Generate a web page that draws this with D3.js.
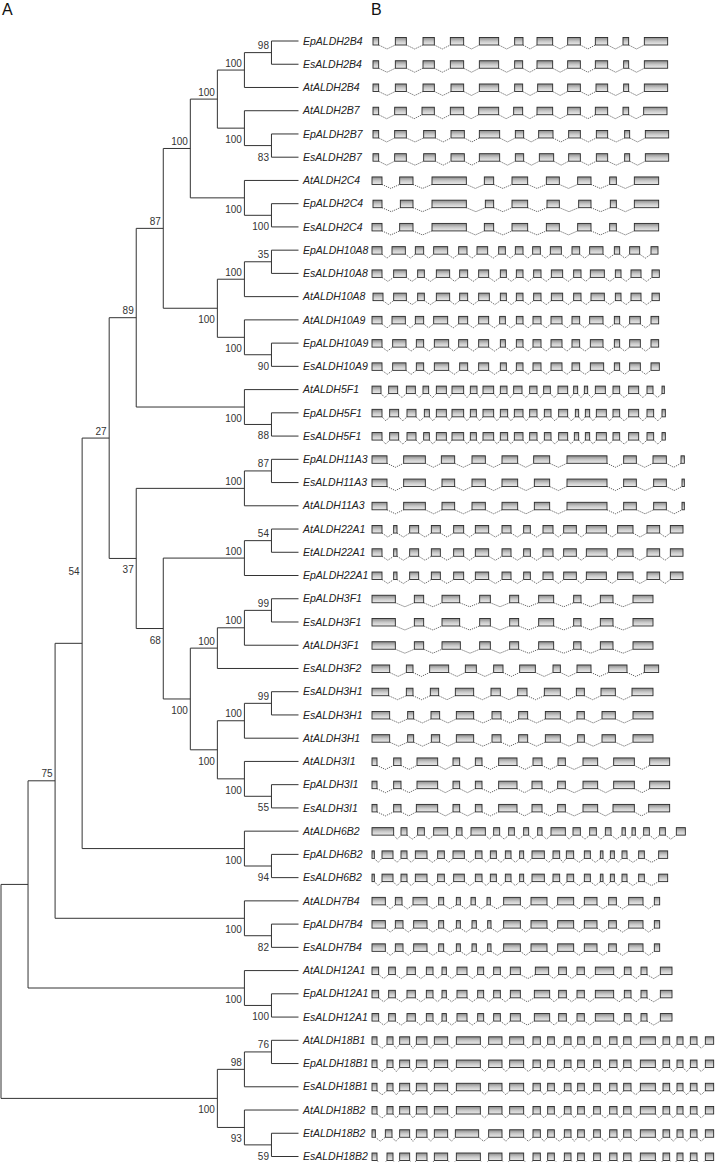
<!DOCTYPE html>
<html><head><meta charset="utf-8">
<script src="https://cdn.jsdelivr.net/npm/d3@7"></script>
<style>
html,body{margin:0;padding:0;background:#fff;}
svg{display:block;font-family:"Liberation Sans",Arial,Helvetica,sans-serif;}
</style>
</head><body>
<svg id="chart" width="717" height="1162"></svg>
<script>
// ---------------- DATA ----------------
// Tree topology with bootstrap support values (Newick, top-to-bottom leaf order)
const treeNewick = "(((((((((((EpALDH2B4,EsALDH2B4)98,AtALDH2B4)100,(AtALDH2B7,(EpALDH2B7,EsALDH2B7)83)100)100,(AtALDH2C4,(EpALDH2C4,EsALDH2C4)100)100)100,(((EpALDH10A8,EsALDH10A8)35,AtALDH10A8)100,(AtALDH10A9,(EpALDH10A9,EsALDH10A9)90)100)100)87,(AtALDH5F1,(EpALDH5F1,EsALDH5F1)88)100)89,(((EpALDH11A3,EsALDH11A3)87,AtALDH11A3)100,(((AtALDH22A1,EtALDH22A1)54,EpALDH22A1)100,((((EpALDH3F1,EsALDH3F1)99,AtALDH3F1)100,EsALDH3F2)100,(((EsALDH3H1,EsALDH3H1)99,AtALDH3H1)100,(AtALDH3I1,(EpALDH3I1,EsALDH3I1)55)100)100)100)68)37)27,(AtALDH6B2,(EpALDH6B2,EsALDH6B2)94)100)54,(AtALDH7B4,(EpALDH7B4,EsALDH7B4)82)100)75,(AtALDH12A1,(EpALDH12A1,EsALDH12A1)100)100),(((AtALDH18B1,EpALDH18B1)76,EsALDH18B1)98,(AtALDH18B2,(EtALDH18B2,EsALDH18B2)59)93)100);";

// Exon start/end pairs (relative gene length units), one list per leaf, in leaf order
const exonStructures = [
  [38,55,105,138,188,222,270,310,357,415,463,488,530,577,622,660,705,742,788,805,852,922],            // EpALDH2B4
  [38,55,105,138,188,222,270,310,357,415,463,487,530,577,622,660,705,742,790,805,852,922],            // EsALDH2B4
  [38,55,105,138,188,222,272,310,357,415,463,487,532,577,622,660,707,742,790,805,852,922],            // AtALDH2B4
  [38,55,103,138,185,222,270,310,355,415,460,487,530,577,622,660,705,742,788,805,850,920],            // AtALDH2B7
  [38,55,103,138,190,225,272,312,357,418,465,490,535,578,625,660,708,742,793,808,855,925],            // EpALDH2B7
  [38,55,103,138,190,225,272,312,357,418,465,490,537,580,625,660,708,742,793,808,855,925],            // EsALDH2B7
  [35,65,118,158,215,318,372,400,455,502,558,597,652,692,748,768,822,895],                            // AtALDH2C4
  [38,65,120,158,215,318,375,400,455,502,560,597,655,692,750,768,822,895],                            // EpALDH2C4
  [35,65,118,158,215,318,372,400,455,502,558,597,652,692,748,768,822,895],                            // EsALDH2C4
  [35,65,95,135,165,190,220,262,295,320,350,382,415,435,465,488,517,540,570,603,635,658,688,728,762,778,808,838,872,893], // EpALDH10A8
  [35,65,100,138,172,192,228,268,298,322,355,385,420,438,468,488,520,542,573,607,640,662,690,732,765,782,812,842,875,897], // EsALDH10A8
  [38,68,100,138,172,192,228,268,298,322,355,387,420,438,468,488,520,542,573,607,640,662,692,732,765,782,812,842,875,897], // AtALDH10A8
  [35,65,95,135,165,190,220,262,295,322,355,385,418,435,468,488,518,542,572,605,635,658,688,728,762,778,808,840,872,895], // AtALDH10A9
  [35,65,97,137,168,190,222,265,295,322,355,385,420,435,468,488,518,542,572,605,635,658,690,728,762,778,808,840,872,895], // EpALDH10A9
  [35,65,97,137,168,190,222,265,298,322,355,385,420,438,468,488,518,542,572,605,635,658,690,730,762,778,808,840,872,897], // EsALDH10A9
  [35,62,85,112,138,165,188,205,228,258,275,310,330,350,368,400,420,440,460,485,508,530,550,570,593,622,640,652,672,682,705,735,758,778,805,835,860,878,905,912], // AtALDH5F1
  [35,65,88,115,140,167,192,207,228,258,275,310,330,348,368,400,420,442,462,488,508,530,552,572,595,622,645,655,675,688,708,738,758,778,805,835,860,880,905,915], // EpALDH5F1
  [35,65,88,115,140,167,190,207,228,258,275,310,330,348,368,400,420,442,462,488,508,530,552,572,595,622,642,655,675,688,708,738,758,778,805,835,860,880,905,915], // EsALDH5F1
  [35,80,130,195,243,283,335,375,425,472,520,568,620,740,790,828,878,918,962,972],                    // EpALDH11A3
  [35,80,130,195,245,283,335,375,425,472,522,568,620,740,790,828,880,918,965,972],                    // EsALDH11A3
  [35,80,130,195,245,283,335,375,425,472,522,568,620,740,790,828,880,918,965,972],                    // AtALDH11A3
  [35,65,100,110,148,175,213,240,280,310,345,385,425,452,490,510,548,578,610,648,678,738,772,818,860,898,930,968], // AtALDH22A1
  [35,65,100,110,148,175,213,240,280,310,345,385,425,452,490,510,548,578,610,648,678,740,772,818,860,898,930,968], // EtALDH22A1
  [35,65,100,110,148,175,213,240,280,310,345,385,425,452,490,510,548,578,610,648,678,738,772,818,860,898,930,968], // EpALDH22A1
  [35,105,162,190,245,298,358,390,448,475,535,580,640,662,720,758,818,878],                           // EpALDH3F1
  [35,105,162,190,245,298,358,390,448,475,535,580,640,662,720,758,818,878],                           // EsALDH3F1
  [35,105,162,190,245,300,358,390,448,475,535,580,640,662,720,758,818,878],                           // AtALDH3F1
  [35,88,138,158,208,265,315,348,400,428,478,525,578,600,650,692,745,800,852,895],                    // EsALDH3F2
  [35,85,138,158,210,235,285,340,392,420,472,500,552,600,648,672,722,765,815,878],                    // EsALDH3H1
  [35,88,142,160,212,238,288,340,395,422,475,502,555,600,650,672,725,765,818,878],                    // EsALDH3H1
  [35,88,142,160,213,238,288,340,395,422,475,502,555,600,652,672,725,765,818,878],                    // AtALDH3H1
  [35,50,100,122,170,232,278,298,345,365,415,470,518,545,593,615,668,712,760,822,868,928],            // AtALDH3I1
  [35,50,100,122,170,232,278,298,345,365,415,470,515,545,592,615,668,712,760,822,868,928],            // EpALDH3I1
  [35,50,100,122,168,232,278,298,345,365,415,470,515,545,592,615,668,712,758,822,865,928],            // EsALDH3I1
  [35,100,122,140,172,192,220,262,288,305,332,375,400,418,445,462,490,505,532,545,572,615,638,660,688,708,735,752,785,795,815,825,850,867,898,915,948,975], // AtALDH6B2
  [35,42,65,98,122,140,165,200,232,252,278,312,345,365,390,408,435,452,478,490,515,552,578,598,618,640,672,690,720,728,750,762,785,800,835,852,895,922], // EpALDH6B2
  [35,42,65,98,122,140,165,200,232,252,280,312,345,365,390,408,435,452,478,490,515,552,578,598,620,640,672,690,720,728,750,762,785,800,835,852,895,922], // EsALDH6B2
  [35,75,105,125,158,200,235,250,288,300,332,345,380,390,430,480,512,560,592,640,672,710,745,768,805,848,882,898], // AtALDH7B4
  [35,75,105,128,160,200,235,250,288,300,335,348,382,392,430,480,512,560,592,640,672,710,745,768,805,848,882,898], // EpALDH7B4
  [35,75,105,128,160,200,235,250,288,300,335,348,382,392,430,480,512,560,592,640,672,710,745,768,805,848,882,898], // EsALDH7B4
  [35,55,85,105,140,165,198,218,245,258,290,320,352,370,400,420,450,480,525,565,595,618,650,672,705,760,792,812,842,860,900,935], // AtALDH12A1
  [35,55,85,105,140,165,198,218,245,258,290,320,352,370,400,420,450,480,522,568,595,618,650,672,705,760,792,812,842,860,900,935], // EpALDH12A1
  [35,55,85,105,140,165,198,218,245,258,290,320,352,370,400,420,450,480,522,568,595,618,650,672,705,760,792,812,842,860,900,935], // EsALDH12A1
  [35,50,80,98,118,148,168,200,222,262,288,360,385,425,448,490,518,540,562,582,612,632,652,672,700,720,748,770,790,812,840,885,908,928,950,968,990,1010,1035,1060], // AtALDH18B1
  [35,50,80,98,118,148,168,200,222,262,288,360,385,425,448,490,518,540,562,582,612,632,652,672,700,720,748,770,790,812,840,885,908,928,950,968,990,1010,1035,1060], // EpALDH18B1
  [35,50,80,98,118,148,168,200,222,262,288,360,385,425,448,490,518,540,562,582,612,632,652,672,700,720,748,770,790,812,840,885,908,928,950,968,990,1010,1035,1060], // EsALDH18B1
  [35,50,80,98,118,148,168,200,222,262,288,360,385,425,448,490,518,540,562,582,612,632,652,672,700,720,748,770,790,812,840,885,908,928,950,968,990,1010,1035,1060], // AtALDH18B2
  [35,45,75,95,118,148,168,200,222,262,285,355,385,425,448,490,518,540,562,582,612,632,652,672,700,720,748,770,790,812,840,885,908,928,950,968,990,1010,1035,1060], // EtALDH18B2
  [35,50,80,98,118,148,168,200,222,262,288,360,385,425,448,490,518,540,562,582,612,632,652,672,700,720,748,770,790,812,840,885,908,928,950,968,990,1010,1035,1060]  // EsALDH18B2
];

const panelLabels = ["A", "B"];
const geneDomain = [35, 1070];

// ---------------- PARSER ----------------
function parseNewick(str) {
  const s = str.replace(/\s+/g, "");
  let i = 0;
  function node() {
    const n = {};
    if (s[i] === "(") {
      i++;
      n.children = [];
      n.children.push(node());
      while (s[i] === ",") { i++; n.children.push(node()); }
      i++; // ')'
    }
    let tok = "";
    while (i < s.length && !",();".includes(s[i])) tok += s[i++];
    if (n.children) n.support = tok || null; else n.name = tok;
    return n;
  }
  return node();
}

// ---------------- LAYOUT ----------------
const svg = d3.select("#chart");
const defs = svg.append("defs");
const grad = defs.append("linearGradient").attr("id", "exonFill")
  .attr("x1", 0).attr("y1", 0).attr("x2", 0).attr("y2", 1);
grad.append("stop").attr("offset", "0%").attr("stop-color", "#8a8a8a");
grad.append("stop").attr("offset", "50%").attr("stop-color", "#c8c8c8");
grad.append("stop").attr("offset", "100%").attr("stop-color", "#ececec");

const root = d3.hierarchy(parseNewick(treeNewick));
d3.cluster().size([1, 1]).separation(() => 1)(root);
const leaves = root.leaves();
const n = leaves.length;

const yScale = d3.scaleLinear().domain([0.5 / n, (n - 0.5) / n]).range([41, 1156.5]);
const xScale = d3.scaleLinear().domain([0, 1]).range([1, 298.5]);
const geneX = d3.scaleLinear().domain(geneDomain).range([372, 717]);

// label placement (the deep "54" node label sits higher in the original figure)
function labelY(d) {
  const upper = d.parent.children[0] === d;
  let y = upper ? yScale(d.x) - 3.5 : yScale(d.x) + 15;
  if (d.height === 8) y -= 65;
  return y;
}

// ---------------- PANEL LABELS ----------------
svg.append("text").attr("x", 2).attr("y", 15).attr("font-size", 16).attr("fill", "#111").text(panelLabels[0]);
svg.append("text").attr("x", 371).attr("y", 15).attr("font-size", 16).attr("fill", "#111").text(panelLabels[1]);

// ---------------- TREE ----------------
const gTree = svg.append("g").attr("fill", "none").attr("stroke", "#333").attr("stroke-width", 1);
const internal = root.descendants().filter(d => d.children);
let pathD = "";
internal.forEach(d => {
  const x = xScale(d.y);
  const c0 = d.children[0], c1 = d.children[d.children.length - 1];
  pathD += `M${x},${yScale(c0.x)}V${yScale(c1.x)}`;
  d.children.forEach(c => {
    pathD += `M${x},${yScale(c.x)}H${xScale(c.y)}`;
  });
});
gTree.append("path").attr("d", pathD);

// support values
svg.append("g").attr("font-size", 10).attr("fill", "#333").attr("text-anchor", "end")
  .selectAll("text")
  .data(internal.filter(d => d.parent && d.data.support))
  .join("text")
  .attr("x", d => xScale(d.y) - 2.5)
  .attr("y", labelY)
  .text(d => d.data.support);

// leaf labels
svg.append("g").attr("font-size", 10.5).attr("font-style", "italic").attr("fill", "#222")
  .selectAll("text")
  .data(leaves)
  .join("text")
  .attr("x", xScale(1) + 4.5)
  .attr("y", d => yScale(d.x))
  .attr("dy", "0.35em")
  .text(d => d.data.name);

// ---------------- GENE STRUCTURES ----------------
const gGenes = svg.append("g");
leaves.forEach((leaf, i) => {
  const yc = yScale(leaf.x);
  const arr = exonStructures[i] || [];
  const exons = [];
  for (let k = 0; k + 1 < arr.length; k += 2) exons.push([arr[k], arr[k + 1]]);
  const row = gGenes.append("g");
  let ip = "";
  for (let k = 0; k < exons.length - 1; k++) {
    const a = geneX(exons[k][1]), b = geneX(exons[k + 1][0]);
    ip += `M${a},${yc + 4}L${(a + b) / 2},${yc + 8}L${b},${yc + 4}`;
  }
  row.append("path").attr("d", ip).attr("fill", "none").attr("stroke", "#555")
    .attr("stroke-width", 0.9).attr("stroke-dasharray", "1.2,1");
  row.selectAll("rect").data(exons).join("rect")
    .attr("x", d => geneX(d[0]))
    .attr("y", yc - 3.5)
    .attr("width", d => geneX(d[1]) - geneX(d[0]))
    .attr("height", 7.5)
    .attr("fill", "url(#exonFill)")
    .attr("stroke", "#2a2a2a")
    .attr("stroke-width", 0.9);
});
</script>
</body></html>
